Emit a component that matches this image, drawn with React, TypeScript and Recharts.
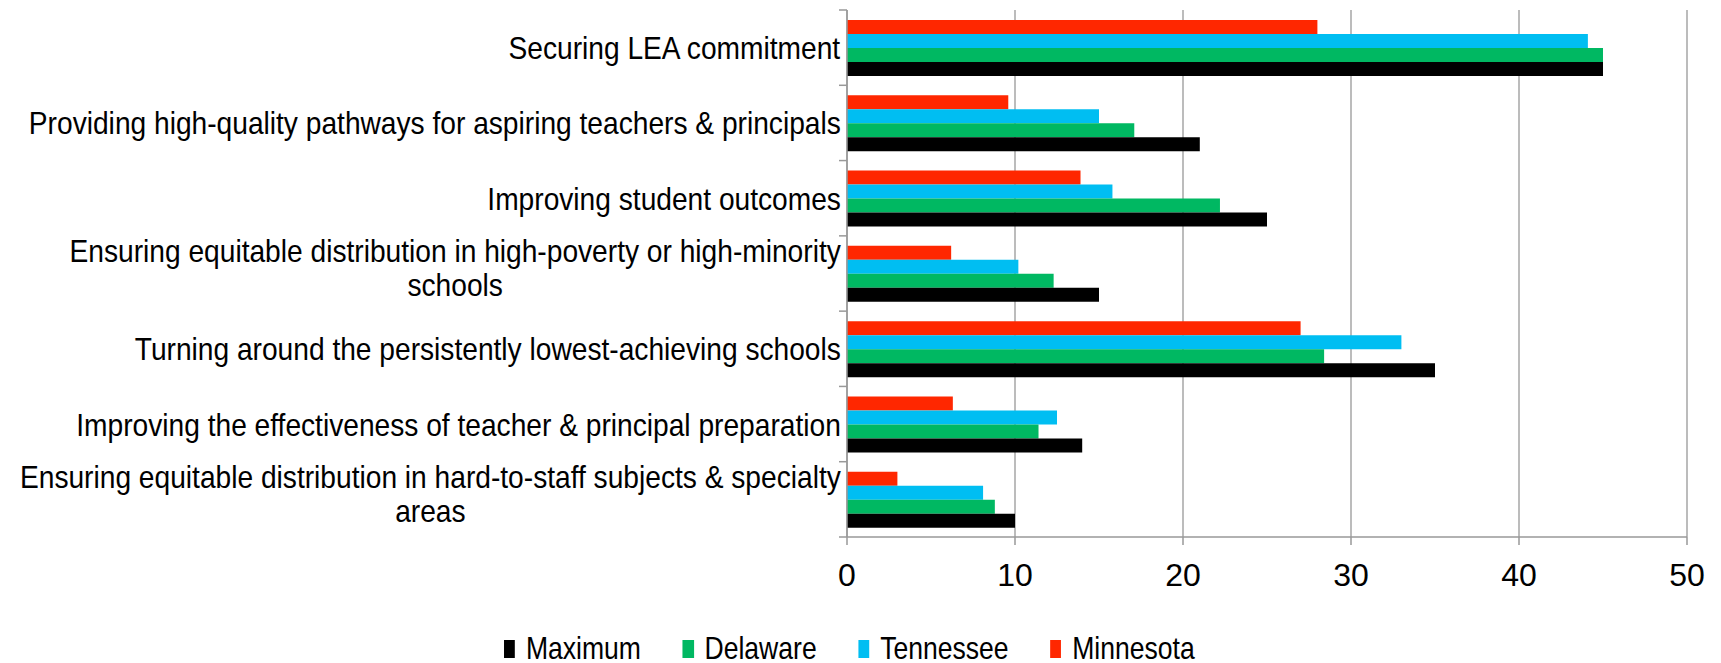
import React from 'react';
import { BarChart, Bar, XAxis, YAxis, CartesianGrid } from 'recharts';

const categories = [
  'Securing LEA commitment',
  'Providing high-quality pathways for aspiring teachers & principals',
  'Improving student outcomes',
  'Ensuring equitable distribution in high-poverty or high-minority\nschools',
  'Turning around the persistently lowest-achieving schools',
  'Improving the effectiveness of teacher & principal preparation',
  'Ensuring equitable distribution in hard-to-staff subjects & specialty\nareas',
];

const maximum = [45, 21, 25, 15, 35, 14, 10];
const delaware = [45, 17.1, 22.2, 12.3, 28.4, 11.4, 8.8];
const tennessee = [44.1, 15, 15.8, 10.2, 33, 12.5, 8.1];
const minnesota = [28, 9.6, 13.9, 6.2, 27, 6.3, 3];

const xTicks = [0, 10, 20, 30, 40, 50];

// drawn top-to-bottom inside each category; legend lists them reversed
const series = [
  { key: 'Minnesota', color: '#FF2700' },
  { key: 'Tennessee', color: '#00BEF2' },
  { key: 'Delaware', color: '#00B862' },
  { key: 'Maximum', color: '#000000' },
];

const data = categories.map((name, i) => ({
  name,
  Maximum: maximum[i],
  Delaware: delaware[i],
  Tennessee: tennessee[i],
  Minnesota: minnesota[i],
}));

const FONT = "'Liberation Sans', Arial, sans-serif";
const FONT_SIZE = 32;
const SX = 0.88; // the original labels are horizontally squeezed
const LEGEND_SX = 0.83;
const AXIS = '#999999';

const W = 1721;
const H = 600;
const TOP = 10;
const PLOT_H = 527;
const BAND = PLOT_H / categories.length;

let ctx: CanvasRenderingContext2D | null = null;
function textWidth(s: string) {
  if (!ctx) ctx = document.createElement('canvas').getContext('2d');
  if (!ctx) return s.length * 15;
  ctx.font = `${FONT_SIZE}px ${FONT}`;
  return ctx.measureText(s).width;
}

function CategoryTick({ x, y, payload, index }: any) {
  const lines = String(payload.value).split('\n');
  const w = Math.max(...lines.map(textWidth)) * SX;
  const cx = x - w / 2;
  const axisX = x + 6;
  const n = lines.length;
  return (
    <g>
      <line x1={axisX - 8} x2={axisX} y1={y - BAND / 2} y2={y - BAND / 2} stroke={AXIS} strokeWidth={1.5} />
      {index === categories.length - 1 && (
        <line x1={axisX - 8} x2={axisX} y1={y + BAND / 2} y2={y + BAND / 2} stroke={AXIS} strokeWidth={1.5} />
      )}
      <g transform={`translate(${cx},0) scale(${SX},1)`}>
        {lines.map((l, i) => (
          <text
            key={i}
            x={0}
            y={y + 11.5 + (i - (n - 1) / 2) * 34 - (n > 1 ? 6 : 0)}
            textAnchor="middle"
            fontSize={FONT_SIZE}
            fontFamily={FONT}
            fill="#000"
          >
            {l}
          </text>
        ))}
      </g>
    </g>
  );
}

export default function App() {
  const legendOrder = [...series].reverse();
  return (
    <div style={{ position: 'absolute', left: 0, top: 0, width: W, height: 663, background: '#fff' }}>
      <BarChart
        width={W}
        height={H}
        data={data}
        layout="vertical"
        margin={{ top: TOP, right: 34, left: 0, bottom: 0 }}
        barGap={0}
        barCategoryGap={10}
      >
        <CartesianGrid horizontal={false} stroke="#a6a6a6" strokeWidth={1.5} />
        <XAxis
          type="number"
          domain={[0, 50]}
          ticks={xTicks}
          height={H - TOP - PLOT_H}
          stroke={AXIS}
          strokeWidth={1.5}
          tickSize={8}
          tickMargin={18}
          tick={{ fontSize: FONT_SIZE, fill: '#000', fontFamily: FONT }}
        />
        <YAxis
          type="category"
          dataKey="name"
          width={847}
          stroke={AXIS}
          strokeWidth={1.5}
          tickLine={false}
          tickSize={0}
          tickMargin={6}
          interval={0}
          tick={<CategoryTick />}
        />
        {series.map(s => (
          <Bar key={s.key} dataKey={s.key} fill={s.color} isAnimationActive={false} />
        ))}
      </BarChart>
      <div
        style={{
          display: 'flex',
          justifyContent: 'center',
          alignItems: 'center',
          gap: 50,
          marginTop: 30,
          paddingRight: 27,
          fontFamily: FONT,
          fontSize: FONT_SIZE,
          color: '#000',
          transform: `scaleX(${LEGEND_SX})`,
        }}
      >
        {legendOrder.map(s => (
          <span key={s.key} style={{ display: 'inline-flex', alignItems: 'center', gap: 13 }}>
            <span style={{ width: 13.5, height: 18, background: s.color, display: 'inline-block' }} />
            {s.key}
          </span>
        ))}
      </div>
    </div>
  );
}
